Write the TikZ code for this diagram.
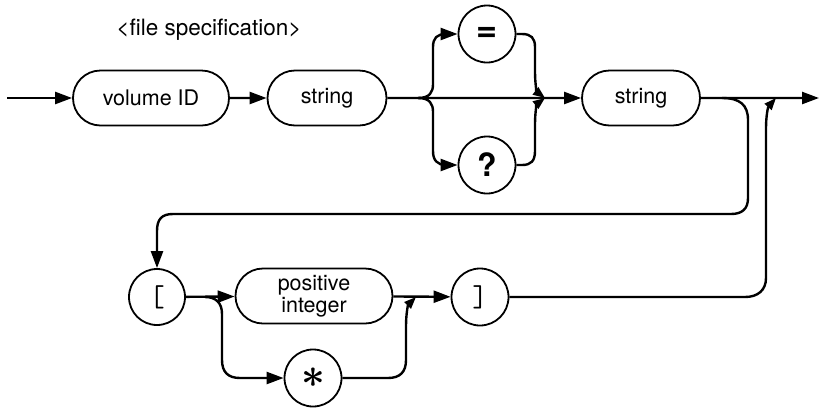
\documentclass[tikz,border=0pt]{standalone}
\usepackage{amsmath}
\usepackage{graphicx}
\usepackage{fontspec}
\setmainfont{TeX Gyre Heros}
\usetikzlibrary{shapes.misc,arrows.meta}
\newcommand{\bigast}{\scalebox{2}{$\boldsymbol{\ast}$}}
\begin{document}
\begin{tikzpicture}[x=1pt,y=-1pt,
  font=\fontsize{21.5}{22.5}\selectfont,
  term/.style={draw,line width=1.8pt,rounded rectangle,minimum height=55pt,inner sep=0pt},
  circ/.style={draw,line width=1.8pt,circle,minimum size=57pt,inner sep=0pt},
  conn/.style={line width=2.4pt},
  arr/.style={conn,-{Triangle[length=17pt,width=12pt]}},
  marr/.style={conn,-{Triangle[length=12pt,width=9pt]}}]
\useasboundingbox (0,0) rectangle (819,408);
% nodes
\node (title) at (209,30) {\fontsize{22.5}{22.5}\selectfont <file specification>};
\node[term,minimum width=156pt] (vol) at (151,98) {volume ID};
\node[term,minimum width=119pt] (s1) at (327,98) {string};
\node[circ] (eq) at (487,34) {\fontsize{36}{36}\selectfont\bfseries =};
\node[circ] (q) at (487,165) {\fontsize{32}{32}\selectfont\bfseries ?};
\node[term,minimum width=118pt] (s2) at (641,98) {string};
\node[circ,minimum size=56pt] (lb) at (157,297) {\fontsize{30}{30}\selectfont\ttfamily [};
\node[term,minimum width=157pt,align=center] (pi) at (314,296) {positive\\integer};
\node[circ] (st) at (313,378) {\fontsize{20}{20}\selectfont\bigast};
\node[circ] (rb) at (480,297) {\fontsize{30}{30}\selectfont\ttfamily ]};
% coordinates
\coordinate (start) at (7,98);
\coordinate (end) at (819,98);
\coordinate (b1) at (418,98);
\coordinate (m1) at (545,98);
\coordinate (b2) at (722,98);
\coordinate (m2) at (776,98);
\coordinate (b3) at (205,297);
\coordinate (m3) at (416,297);
% main line
\draw[arr] (start) -- (vol);
\draw[arr] (vol) -- (s1);
\draw[arr] (s1) -- (s2);
\draw[arr] (s2) -- (end);
% = and ? branches
\draw[arr] (b1) .. controls (430,98) and (433,92) .. (433,84) -- (433,47)
  .. controls (433,38) and (437,34) .. (446,34) -- (eq.west);
\draw[arr] (b1) .. controls (430,98) and (433,104) .. (433,112) -- (433,151)
  .. controls (433,160) and (437,165) .. (446,165) -- (q.west);
\draw[marr] (eq.east) -- (522,34) .. controls (531,34) and (535,38) .. (535,47)
  -- (535,72) .. controls (535,84) and (537,92) .. (m1);
\draw[marr] (q.east) -- (522,165) .. controls (531,165) and (535,161) .. (535,151)
  -- (535,124) .. controls (535,112) and (537,104) .. (m1);
% loop down to [
\draw[arr] (b2) .. controls (740,98) and (748,105) .. (748,120) -- (748,198)
  .. controls (748,209) and (742,214) .. (731,214) -- (173,214)
  .. controls (162,214) and (157,219) .. (157,231) -- (lb.north);
% lower row
\draw[arr] (lb) -- (pi);
\draw[arr] (b3) .. controls (216,297) and (222,303) .. (222,314) -- (222,360)
  .. controls (222,372) and (228,378) .. (240,378) -- (st.west);
\draw[arr] (pi) -- (rb);
\draw[marr] (st.east) -- (388,378) .. controls (400,378) and (406,372) .. (406,360)
  -- (406,326) .. controls (406,314) and (408,305) .. (m3);
% return to main line
\draw[marr] (rb.east) -- (745,297) .. controls (758,297) and (766,290) .. (766,278)
  -- (766,128) .. controls (766,116) and (768,107) .. (m2);
\end{tikzpicture}
\end{document}
